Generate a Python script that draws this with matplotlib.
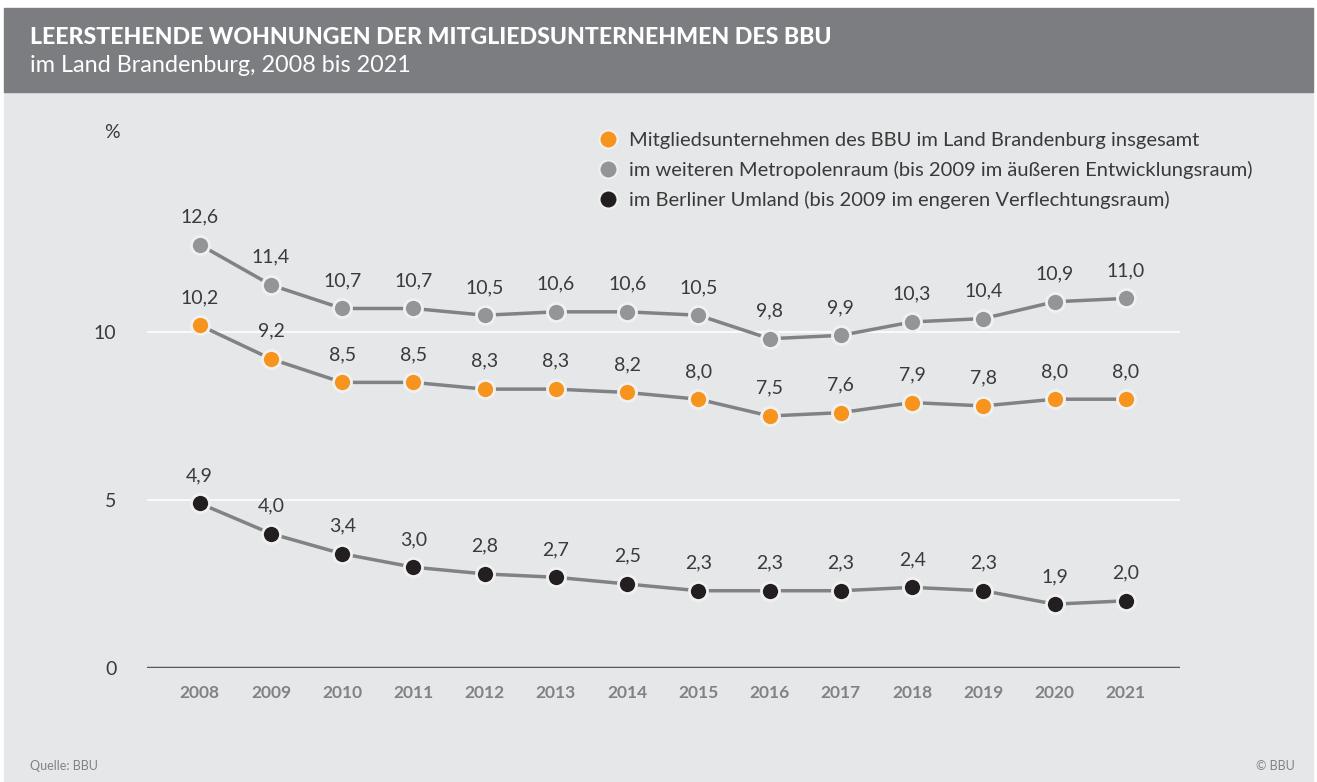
import matplotlib.pyplot as plt
from matplotlib.patches import Rectangle
from matplotlib.lines import Line2D

years = list(range(2008, 2022))
insgesamt = [10.2, 9.2, 8.5, 8.5, 8.3, 8.3, 8.2, 8.0, 7.5, 7.6, 7.9, 7.8, 8.0, 8.0]
metropolenraum = [12.6, 11.4, 10.7, 10.7, 10.5, 10.6, 10.6, 10.5, 9.8, 9.9, 10.3, 10.4, 10.9, 11.0]
umland = [4.9, 4.0, 3.4, 3.0, 2.8, 2.7, 2.5, 2.3, 2.3, 2.3, 2.4, 2.3, 1.9, 2.0]
labels = [
    "Mitgliedsunternehmen des BBU im Land Brandenburg insgesamt",
    "im weiteren Metropolenraum (bis 2009 im äußeren Entwicklungsraum)",
    "im Berliner Umland (bis 2009 im engeren Verflechtungsraum)",
]

plt.rcParams["font.family"] = ["Lato", "DejaVu Sans"]

W, H = 1317, 782
fig = plt.figure(figsize=(W / 100, H / 100), dpi=100, facecolor="white")

# Hintergrund und Kopfzeile
fig.patches.append(Rectangle((4 / W, 0), 1309 / W, (H - 92) / H,
                             transform=fig.transFigure, color="#e6e7e8", zorder=-5))
fig.patches.append(Rectangle((4 / W, (H - 92) / H), 1309 / W, 84 / H,
                             transform=fig.transFigure, color="#7b7d80", zorder=-5))
fig.text(30 / W, 1 - 37 / H, "LEERSTEHENDE WOHNUNGEN DER MITGLIEDSUNTERNEHMEN DES BBU",
         color="white", fontsize=16.7, fontweight="black", va="center", ha="left")
fig.text(30 / W, 1 - 65 / H, "im Land Brandenburg, 2008 bis 2021",
         color="white", fontsize=16.8, va="center", ha="left")

ax = fig.add_axes([147 / W, 114 / H, 1033 / W, 537.6 / H])
ax.set_facecolor("none")
ax.set_xlim(2007.26, 2021.76)
ax.set_ylim(0, 16)

for v in (5, 10):
    ax.axhline(v, color="white", lw=1.2, zorder=1)
ax.axhline(0, color="#58595b", lw=2.5, zorder=2)

series = [
    (insgesamt, "#f7941d"),
    (metropolenraum, "#939598"),
    (umland, "#231f20"),
]
for vals, col in series:
    ax.plot(years, vals, color="#808285", lw=2.5, zorder=3,
            marker="o", markersize=13, markerfacecolor=col,
            markeredgecolor="#f1f1f1", markeredgewidth=2)
    for x, y in zip(years, vals):
        ax.annotate(f"{y:.1f}".replace(".", ","), (x, y), xytext=(0, 20),
                    textcoords="offset points", ha="center", va="center",
                    fontsize=14, color="#3a3a3a", zorder=4)

for s in ax.spines.values():
    s.set_visible(False)
ax.set_xticks(years)
ax.set_xticklabels([str(y) for y in years], fontweight="bold", fontsize=12.5, color="#808285")
ax.set_yticks([0, 5, 10])
ax.set_yticklabels(["0", "5", "10"], fontsize=14, color="#3a3a3a")
ax.tick_params(axis="both", length=0)
ax.tick_params(axis="x", pad=12)
ax.tick_params(axis="y", pad=22)

fig.text(112 / W, 1 - 133 / H, "%", fontsize=14, color="#3a3a3a", ha="center", va="center")

handles = [Line2D([], [], ls="none", marker="o", markersize=13, markerfacecolor=c,
                  markeredgecolor="#f1f1f1", markeredgewidth=1.5) for _, c in series]
fig.legend(handles, labels, loc="upper left", bbox_to_anchor=(596 / W, 1 - 132 / H),
           frameon=False, fontsize=14.5, labelcolor="#3a3a3a", handletextpad=0.45,
           labelspacing=0.6, handlelength=1.2, borderaxespad=0, borderpad=0)

fig.text(30 / W, 1 - 766 / H, "Quelle: BBU", fontsize=9, color="#808285", va="center")
fig.text(1295 / W, 1 - 766 / H, "© BBU", fontsize=9, color="#808285", va="center", ha="right")

fig.savefig("out.png", dpi=100, facecolor=fig.get_facecolor())
